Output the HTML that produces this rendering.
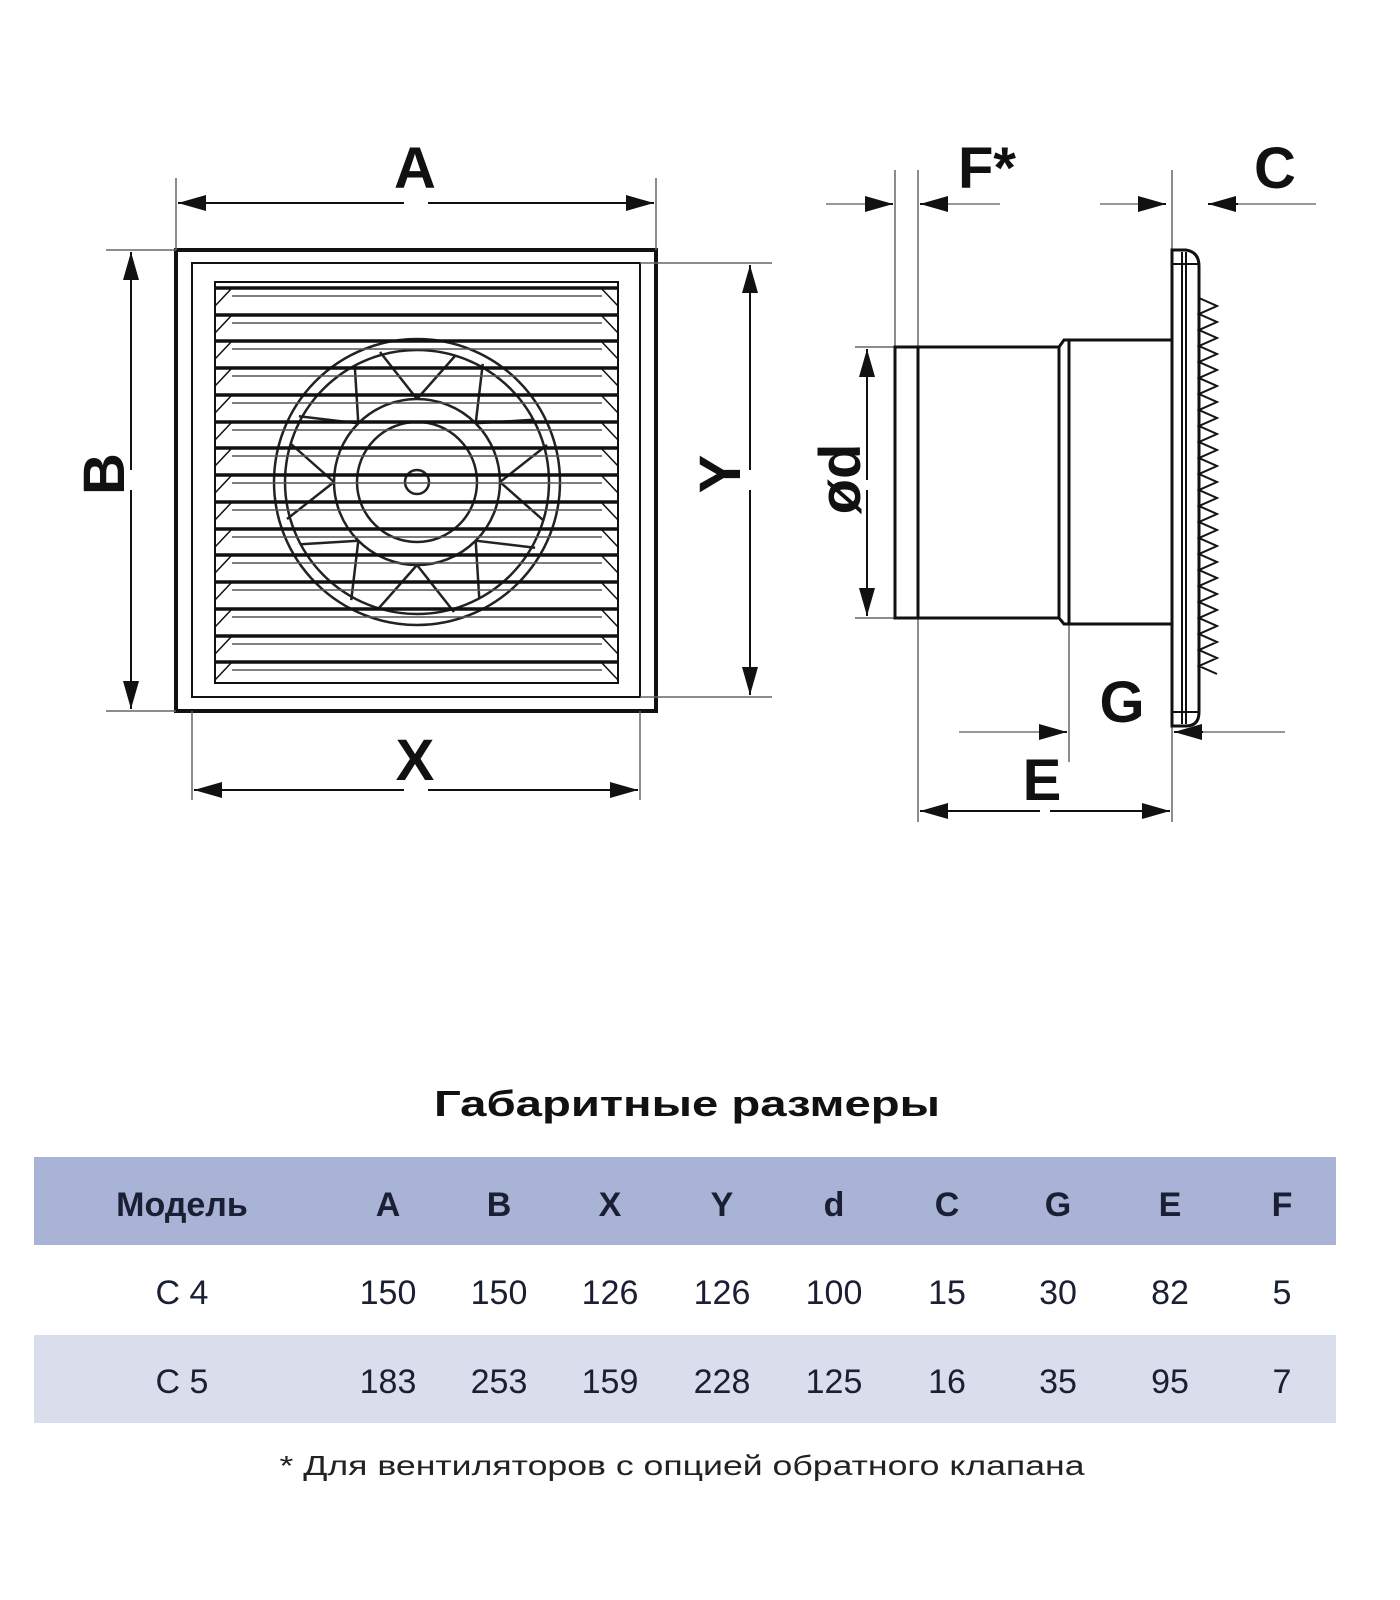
<!DOCTYPE html>
<html><head><meta charset="utf-8">
<style>
html,body{margin:0;padding:0;background:#fff;}
svg{display:block;}
</style></head>
<body>
<svg width="1400" height="1600" viewBox="0 0 1400 1600" xmlns="http://www.w3.org/2000/svg" font-family="Liberation Sans, DejaVu Sans, sans-serif">
<defs>
<marker id="ah" viewBox="0 0 28 16" refX="28" refY="8" markerWidth="28" markerHeight="16" markerUnits="userSpaceOnUse" orient="auto">
<path d="M0,0 L28,8 L0,16 Z" fill="#111"/>
</marker>
</defs>

<!-- ===== FRONT VIEW ===== -->
<g stroke="#111" fill="none">
  <rect x="176" y="250" width="480" height="461" stroke-width="4"/>
  <rect x="192" y="263" width="448" height="434" stroke-width="2"/>
  <rect x="215" y="282" width="403" height="401" stroke-width="2"/>
</g>
<!-- fan -->
<g stroke="#222" fill="none" stroke-width="2.5">
  <circle cx="417" cy="482" r="143"/>
  <circle cx="417" cy="482" r="132"/>
  <circle cx="417" cy="482" r="83"/>
  <circle cx="417" cy="482" r="60"/>
  <circle cx="417" cy="482" r="12"/>
  <g id="blades">
    <line x1="417" y1="399" x2="380" y2="352"/>
    <line x1="417" y1="399" x2="455" y2="356"/>
  </g>
  <use href="#blades" transform="rotate(45 417 482)"/>
  <use href="#blades" transform="rotate(90 417 482)"/>
  <use href="#blades" transform="rotate(135 417 482)"/>
  <use href="#blades" transform="rotate(180 417 482)"/>
  <use href="#blades" transform="rotate(225 417 482)"/>
  <use href="#blades" transform="rotate(270 417 482)"/>
  <use href="#blades" transform="rotate(315 417 482)"/>
</g>
<!-- louvers -->
<g id="slats" stroke="#111">
</g>
<g stroke="#111" fill="none">
  <!-- generated slats -->
  <g stroke-width="3.5">
    <line x1="215" y1="288" x2="618" y2="288"/><line x1="215" y1="315" x2="618" y2="315"/>
    <line x1="215" y1="341" x2="618" y2="341"/><line x1="215" y1="368" x2="618" y2="368"/>
    <line x1="215" y1="395" x2="618" y2="395"/><line x1="215" y1="422" x2="618" y2="422"/>
    <line x1="215" y1="448" x2="618" y2="448"/><line x1="215" y1="475" x2="618" y2="475"/>
    <line x1="215" y1="502" x2="618" y2="502"/><line x1="215" y1="529" x2="618" y2="529"/>
    <line x1="215" y1="555" x2="618" y2="555"/><line x1="215" y1="582" x2="618" y2="582"/>
    <line x1="215" y1="609" x2="618" y2="609"/><line x1="215" y1="636" x2="618" y2="636"/>
    <line x1="215" y1="662" x2="618" y2="662"/>
  </g>
  <g stroke-width="1.5" stroke="#555">
    <line x1="232" y1="296" x2="602" y2="296"/><line x1="232" y1="323" x2="602" y2="323"/>
    <line x1="232" y1="349" x2="602" y2="349"/><line x1="232" y1="376" x2="602" y2="376"/>
    <line x1="232" y1="403" x2="602" y2="403"/><line x1="232" y1="430" x2="602" y2="430"/>
    <line x1="232" y1="456" x2="602" y2="456"/><line x1="232" y1="483" x2="602" y2="483"/>
    <line x1="232" y1="510" x2="602" y2="510"/><line x1="232" y1="537" x2="602" y2="537"/>
    <line x1="232" y1="563" x2="602" y2="563"/><line x1="232" y1="590" x2="602" y2="590"/>
    <line x1="232" y1="617" x2="602" y2="617"/><line x1="232" y1="644" x2="602" y2="644"/>
    <line x1="232" y1="670" x2="602" y2="670"/>
  </g>
  <g stroke-width="1.5">
    <path d="M215,306 L232,288 M215,333 L232,315 M215,359 L232,341 M215,386 L232,368 M215,413 L232,395 M215,440 L232,422 M215,466 L232,448 M215,493 L232,475 M215,520 L232,502 M215,547 L232,529 M215,573 L232,555 M215,600 L232,582 M215,627 L232,609 M215,654 L232,636 M215,680 L232,662"/>
    <path d="M618,306 L601,288 M618,333 L601,315 M618,359 L601,341 M618,386 L601,368 M618,413 L601,395 M618,440 L601,422 M618,466 L601,448 M618,493 L601,475 M618,520 L601,502 M618,547 L601,529 M618,573 L601,555 M618,600 L601,582 M618,627 L601,609 M618,654 L601,636 M618,680 L601,662"/>
  </g>
</g>

<!-- front dimensions -->
<g stroke="#666" stroke-width="1.5">
  <line x1="176" y1="178" x2="176" y2="250"/>
  <line x1="656" y1="178" x2="656" y2="250"/>
  <line x1="106" y1="250" x2="176" y2="250"/>
  <line x1="106" y1="711" x2="176" y2="711"/>
  <line x1="640" y1="263" x2="772" y2="263"/>
  <line x1="640" y1="697" x2="772" y2="697"/>
  <line x1="192" y1="711" x2="192" y2="800"/>
  <line x1="640" y1="711" x2="640" y2="800"/>
</g>
<g stroke="#111" stroke-width="2">
  <line x1="404" y1="203" x2="178" y2="203" marker-end="url(#ah)"/>
  <line x1="428" y1="203" x2="654" y2="203" marker-end="url(#ah)"/>
  <line x1="131" y1="470" x2="131" y2="252" marker-end="url(#ah)"/>
  <line x1="131" y1="490" x2="131" y2="709" marker-end="url(#ah)"/>
  <line x1="750" y1="470" x2="750" y2="265" marker-end="url(#ah)"/>
  <line x1="750" y1="490" x2="750" y2="695" marker-end="url(#ah)"/>
  <line x1="404" y1="790" x2="194" y2="790" marker-end="url(#ah)"/>
  <line x1="428" y1="790" x2="638" y2="790" marker-end="url(#ah)"/>
</g>
<g font-weight="bold" font-size="58" fill="#111" text-anchor="middle">
  <text x="415" y="188">A</text>
  <text x="415" y="780">X</text>
  <text transform="translate(124,474) rotate(-90)">B</text>
  <text transform="translate(740,474) rotate(-90)">Y</text>
</g>

<!-- ===== SIDE VIEW ===== -->
<g stroke="#666" stroke-width="1.5">
  <line x1="895" y1="170" x2="895" y2="347"/>
  <line x1="918" y1="170" x2="918" y2="822"/>
  <line x1="1172" y1="170" x2="1172" y2="822"/>
  <line x1="1069" y1="624" x2="1069" y2="762"/>
  <line x1="855" y1="347" x2="895" y2="347"/>
  <line x1="855" y1="618" x2="895" y2="618"/>
</g>
<g stroke="#111" fill="#fff" stroke-width="3">
  <rect x="895" y="347" width="23" height="271"/>
  <rect x="918" y="347" width="141" height="271"/>
  <path d="M1059,347 L1064,340 L1069,340 L1069,624 L1064,624 L1059,618 Z"/>
  <rect x="1069" y="340" width="103" height="284"/>
  <path d="M1172,250 L1186,250 Q1199,252 1199,266 L1199,712 Q1199,726 1186,726 L1172,726 Z"/>
</g>
<g stroke="#111" fill="none" stroke-width="2">
  <line x1="1182" y1="252" x2="1182" y2="724"/>
  <line x1="1186" y1="252" x2="1186" y2="724"/>
  <line x1="1172" y1="264" x2="1199" y2="264"/>
  <line x1="1172" y1="712" x2="1199" y2="712"/>
  <path d="M1199,298 L1217,306 L1199,314 L1217,322 L1199,330 L1217,338 L1199,346 L1217,354 L1199,362 L1217,370 L1199,378 L1217,386 L1199,394 L1217,402 L1199,410 L1217,418 L1199,426 L1217,434 L1199,442 L1217,450 L1199,458 L1217,466 L1199,474 L1217,482 L1199,490 L1217,498 L1199,506 L1217,514 L1199,522 L1217,530 L1199,538 L1217,546 L1199,554 L1217,562 L1199,570 L1217,578 L1199,586 L1217,594 L1199,602 L1217,610 L1199,618 L1217,626 L1199,634 L1217,642 L1199,650 L1217,658 L1199,666 L1217,674"/>
</g>
<!-- side dimension lines -->
<g stroke="#777" stroke-width="1.5">
  <line x1="826" y1="204" x2="866" y2="204"/>
  <line x1="946" y1="204" x2="1000" y2="204"/>
  <line x1="1100" y1="204" x2="1140" y2="204"/>
  <line x1="1236" y1="204" x2="1316" y2="204"/>
  <line x1="959" y1="732" x2="1040" y2="732"/>
  <line x1="1201" y1="732" x2="1285" y2="732"/>
</g>
<g stroke="#111" stroke-width="2">
  <line x1="865" y1="204" x2="893" y2="204" marker-end="url(#ah)"/>
  <line x1="948" y1="204" x2="920" y2="204" marker-end="url(#ah)"/>
  <line x1="1138" y1="204" x2="1166" y2="204" marker-end="url(#ah)"/>
  <line x1="1238" y1="204" x2="1208" y2="204" marker-end="url(#ah)"/>
  <line x1="1039" y1="732" x2="1067" y2="732" marker-end="url(#ah)"/>
  <line x1="1203" y1="732" x2="1174" y2="732" marker-end="url(#ah)"/>
  <line x1="1040" y1="811" x2="920" y2="811" marker-end="url(#ah)"/>
  <line x1="1050" y1="811" x2="1170" y2="811" marker-end="url(#ah)"/>
  <line x1="867" y1="480" x2="867" y2="349" marker-end="url(#ah)"/>
  <line x1="867" y1="490" x2="867" y2="616" marker-end="url(#ah)"/>
</g>
<g font-weight="bold" font-size="58" fill="#111" text-anchor="middle">
  <text x="987" y="188">F*</text>
  <text x="1275" y="188">C</text>
  <text x="1122" y="722">G</text>
  <text x="1042" y="800">E</text>
  <text transform="translate(860,479) rotate(-90)">ød</text>
</g>

<!-- ===== TABLE ===== -->
<text x="687" y="1116" text-anchor="middle" font-size="36" font-weight="bold" fill="#111" textLength="506" lengthAdjust="spacingAndGlyphs">Габаритные размеры</text>
<rect x="34" y="1157" width="1302" height="88" fill="#a9b3d6"/>
<rect x="34" y="1335" width="1302" height="88" fill="#d9ddec"/>
<g font-size="34" fill="#1a1f33" text-anchor="middle">
  <g font-weight="bold">
    <text x="182" y="1216">Модель</text>
    <text x="388" y="1216">A</text><text x="499" y="1216">B</text><text x="610" y="1216">X</text>
    <text x="722" y="1216">Y</text><text x="834" y="1216">d</text><text x="947" y="1216">C</text>
    <text x="1058" y="1216">G</text><text x="1170" y="1216">E</text><text x="1282" y="1216">F</text>
  </g>
  <text x="182" y="1304">C 4</text>
  <text x="388" y="1304">150</text><text x="499" y="1304">150</text><text x="610" y="1304">126</text>
  <text x="722" y="1304">126</text><text x="834" y="1304">100</text><text x="947" y="1304">15</text>
  <text x="1058" y="1304">30</text><text x="1170" y="1304">82</text><text x="1282" y="1304">5</text>
  <text x="182" y="1393">C 5</text>
  <text x="388" y="1393">183</text><text x="499" y="1393">253</text><text x="610" y="1393">159</text>
  <text x="722" y="1393">228</text><text x="834" y="1393">125</text><text x="947" y="1393">16</text>
  <text x="1058" y="1393">35</text><text x="1170" y="1393">95</text><text x="1282" y="1393">7</text>
</g>
<text x="682" y="1475" text-anchor="middle" font-size="28" fill="#222" textLength="805" lengthAdjust="spacingAndGlyphs">* Для вентиляторов с опцией обратного клапана</text>
</svg>
</body></html>
